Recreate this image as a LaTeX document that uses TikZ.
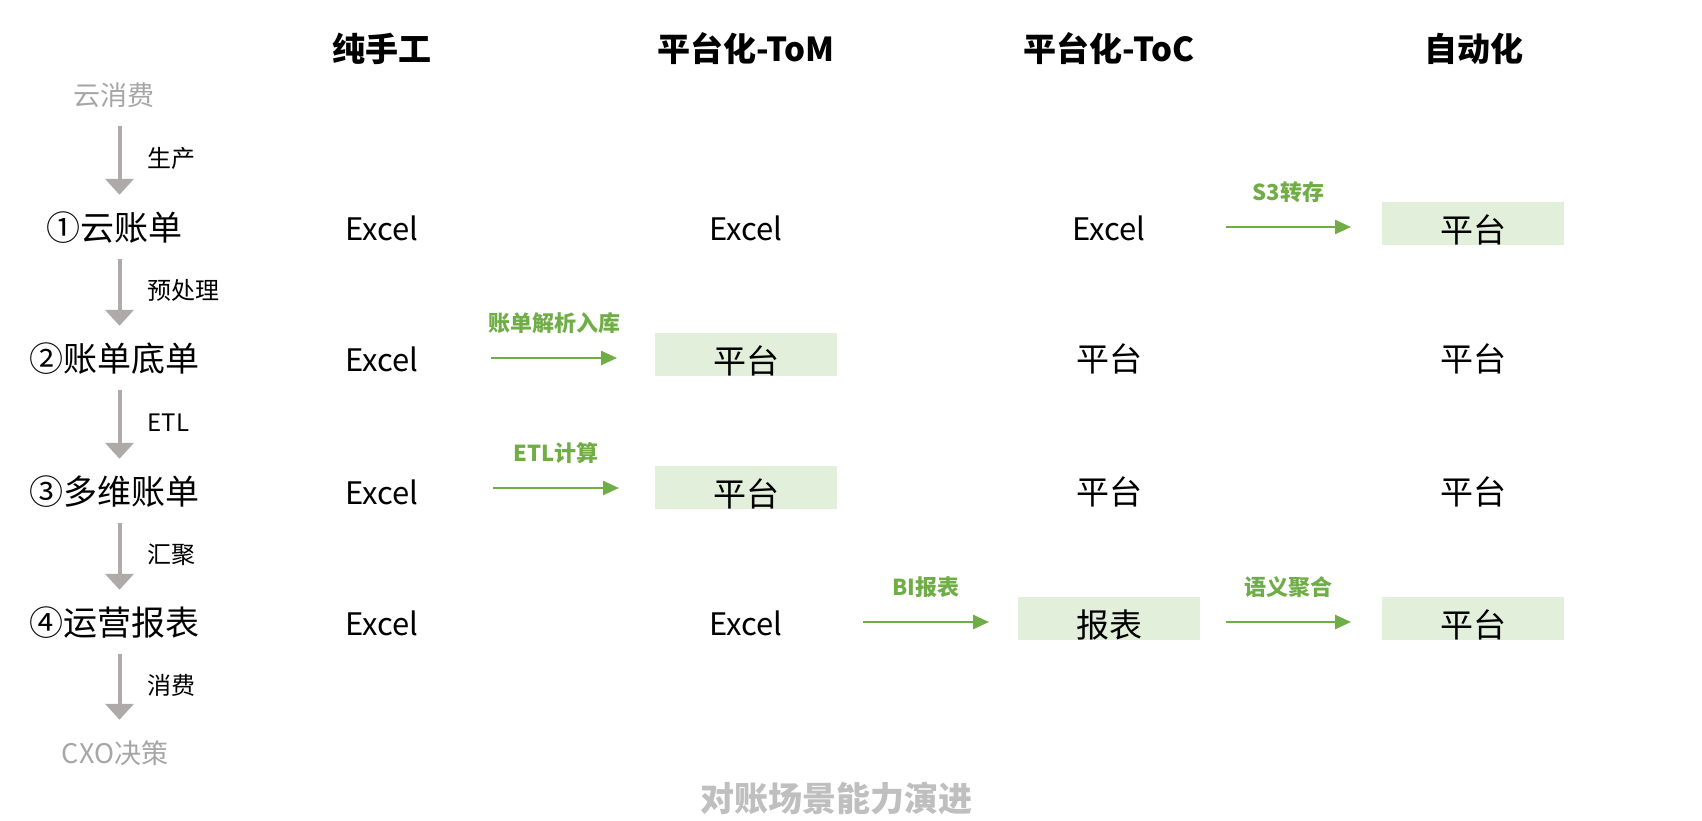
\documentclass[tikz,border=0pt]{standalone}
\usepackage{fontspec}
\setmainfont{Noto Sans CJK SC}
\usepackage{tikz}
\usetikzlibrary{arrows.meta}
\definecolor{flowgray}{HTML}{AEAAAA}
\definecolor{srcgray}{HTML}{A6A6A6}
\definecolor{titlegray}{HTML}{BFBFBF}
\definecolor{evogreen}{HTML}{70AD47}
\definecolor{evofill}{HTML}{E2EFDA}
\tikzset{
  colhead/.style={font=\fontsize{33}{40}\selectfont\bfseries},
  stage/.style={font=\fontsize{34}{40}\selectfont, minimum height=40pt},
  endpoint/.style={stage, font=\fontsize{27}{32}\selectfont, text=srcgray},
  cell/.style={font=\fontsize{31}{37}\selectfont},
  platbox/.style={cell, font=\fontsize{33}{40}\selectfont, fill=evofill, minimum width=182pt, minimum height=43pt,
    inner ysep=0pt, text height=40pt, text depth=2pt, yshift=5pt},
  flow/.style={-{Triangle[length=16pt,width=28pt]}, draw=flowgray, line width=4pt, shorten <=11pt, shorten >=13pt},
  flowlabel/.style={font=\fontsize{24}{29}\selectfont, anchor=west, xshift=23pt, yshift=3pt},
  upgrade/.style={-{Triangle[length=16pt,width=14pt]}, draw=evogreen, line width=2.5pt},
  uplabel/.style={font=\fontsize{22}{26}\selectfont\bfseries, text=evogreen, above=20pt}
}

\begin{document}
\begin{tikzpicture}[x=1pt,y=1pt]
  \useasboundingbox (0,0) rectangle (1702,-820);

  % column heads
  \node[colhead] (h1) at (382,-49) {纯手工};
  \node[colhead] (h2) at (746,-49) {平台化-ToM};
  \node[colhead] (h3) at (1109,-49) {平台化-ToC};
  \node[colhead] (h4) at (1474,-49) {自动化};

  % left pipeline
  \node[endpoint] (s0) at (114,-95) {云消费};
  \node[stage] (s1) at (114,-228) {①云账单};
  \node[stage] (s2) at (114,-359) {②账单底单};
  \node[stage] (s3) at (114,-492) {③多维账单};
  \node[stage] (s4) at (114,-623) {④运营报表};
  \node[endpoint] (s5) at (115,-753) {CXO决策};
  \coordinate (ax) at (119.5,0);

  \draw[flow] (s0.south -| ax) -- node[flowlabel]{生产} (s1.north -| ax);
  \draw[flow] (s1.south -| ax) -- node[flowlabel]{预处理} (s2.north -| ax);
  \draw[flow] (s2.south -| ax) -- node[flowlabel]{ETL} (s3.north -| ax);
  \draw[flow] (s3.south -| ax) -- node[flowlabel]{汇聚} (s4.north -| ax);
  \draw[flow] (s4.south -| ax) -- node[flowlabel]{消费} (s5.north -| ax);

  % manual column
  \foreach \r/\y in {1/228,2/359,3/492,4/623}
    \node[cell] (c1\r) at (382,-\y) {Excel};

  % ToM column
  \node[cell] (c21) at (746,-228) {Excel};
  \node[platbox] (c22) at (746,-359) {平台};
  \node[platbox] (c23) at (746,-492) {平台};
  \node[cell] (c24) at (746,-623) {Excel};

  % ToC column
  \node[cell] (c31) at (1109,-228) {Excel};
  \node[cell, font=\fontsize{33}{40}\selectfont] (c32) at (1109,-359) {平台};
  \node[cell, font=\fontsize{33}{40}\selectfont] (c33) at (1109,-492) {平台};
  \node[platbox] (c34) at (1109,-623) {报表};

  % auto column
  \node[platbox] (c41) at (1473,-228) {平台};
  \node[cell, font=\fontsize{33}{40}\selectfont] (c42) at (1473,-359) {平台};
  \node[cell, font=\fontsize{33}{40}\selectfont] (c43) at (1473,-492) {平台};
  \node[platbox] (c44) at (1473,-623) {平台};

  % upgrade arrows
  \coordinate (u2a) at (491,-358);  \coordinate (u2b) at (617,-358);
  \coordinate (u3a) at (493,-488);  \coordinate (u3b) at (619,-488);
  \coordinate (t4a) at (863,-622);  \coordinate (t4b) at (989,-622);
  \coordinate (a1a) at (1226,-227); \coordinate (a1b) at (1351,-227);
  \coordinate (a4a) at (1226,-622); \coordinate (a4b) at (1351,-622);

  \draw[upgrade] (u2a) -- node[uplabel]{账单解析入库} (u2b);
  \draw[upgrade] (u3a) -- node[uplabel]{ETL计算} (u3b);
  \draw[upgrade] (t4a) -- node[uplabel]{BI报表} (t4b);
  \draw[upgrade] (a1a) -- node[uplabel]{S3转存} (a1b);
  \draw[upgrade] (a4a) -- node[uplabel]{语义聚合} (a4b);

  \node[font=\fontsize{34}{40}\selectfont\bfseries, text=titlegray] (title) at (836,-798) {对账场景能力演进};
\end{tikzpicture}
\end{document}
